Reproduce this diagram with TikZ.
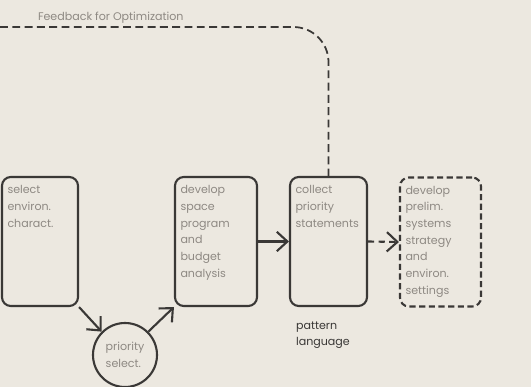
\documentclass[tikz,border=0pt]{standalone}
\usepackage{fontspec}
\setmainfont{Poppins}
\usepackage{tikz}
\usetikzlibrary{arrows.meta,positioning}
\definecolor{paper}{HTML}{ECE8E0}
\definecolor{ink}{HTML}{3A3836}
\definecolor{pale}{HTML}{8E8983}

\begin{document}
\begin{tikzpicture}[line width=1.2pt, draw=ink]
        \tikzstyle{stage} = [rectangle, rounded corners=5pt, draw=ink, line width=1.2pt, minimum height=2.58cm, inner sep=0pt]
        \tikzstyle{stagetext} = [anchor=north west, align=left, inner sep=0pt, xshift=0.11cm, yshift=-0.17cm, text=pale, font=\fontsize{6.3}{9.5}\selectfont]
        \tikzstyle{flow} = [-{Straight Barb[length=6pt, width=11pt]}, ink, line width=1.2pt]
        \tikzstyle{feedback} = [ink, line width=1pt, dash pattern=on 4.5pt off 2.5pt, rounded corners=20pt]

\fill[paper] (0,0) rectangle (10.62,7.74);
        \useasboundingbox (0,0) rectangle (10.62,7.74);

\node[stage, minimum width=1.52cm] (environ) at (0.8,2.91) {};
        \node[stage, minimum width=1.64cm] (space) at (4.32,2.91) {};
        \node[stage, minimum width=1.54cm] (collect) at (6.57,2.91) {};
        \node[stage, dashed, dash pattern=on 3.5pt off 2pt, minimum width=1.62cm] (prelim) at (8.81,2.9) {};
        \node[circle, draw=ink, line width=1.2pt, minimum size=1.28cm, inner sep=0pt] (priority) at (2.5,0.64) {};

\node[stagetext] (environtext) at (environ.north west) {select\\environ.\\charact.};
        \node[stagetext] (spacetext) at (space.north west) {develop\\space\\program\\and\\budget\\analysis};
        \node[stagetext] (collecttext) at (collect.north west) {collect\\priority\\statements};
        \node[stagetext] (prelimtext) at (prelim.north west) {develop\\prelim.\\systems\\strategy\\and\\environ.\\settings};
        \node[align=left, inner sep=0pt, text=pale, font=\fontsize{6.3}{9.5}\selectfont] (prioritytext) at (priority) {priority\\select.};
        \node[anchor=north west, align=left, inner sep=0pt, text=ink, font=\fontsize{6.3}{9}\selectfont] (pattern) at (5.9,1.32) {pattern\\language};

\coordinate (fbstart) at (0,7.2);
        \node[anchor=south west, inner sep=0pt, text=pale, font=\fontsize{6.3}{8}\selectfont] (fblabel) at (0.74,7.25) {Feedback for Optimization};

\draw[flow] (environ.south east) -- (priority.north west);
        \draw[flow] (priority.north east) -- (space.south west);
        \draw[flow] (space.east) -- (collect.west);
        \draw[flow, dashed, dash pattern=on 3.5pt off 2.5pt] (collect.east) -- (prelim.west);

\draw[feedback] (fbstart) -| (collect.north);

    \end{tikzpicture}
\end{document}
